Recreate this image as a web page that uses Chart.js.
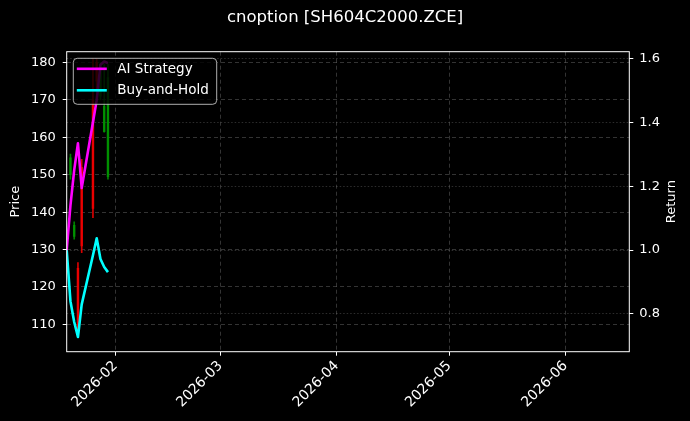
<!DOCTYPE html>
<html>
<head>
<meta charset="utf-8">
<script src="https://cdn.jsdelivr.net/npm/chart.js@4.4.1/dist/chart.umd.min.js"></script>
<style>
  html, body { margin: 0; padding: 0; background: #000; }
  #wrap { width: 690px; height: 421px; }
</style>
</head>
<body>
<div id="wrap"><canvas id="chart"></canvas></div>
<script>
// trading days shown in the picture
const dates = ['2026-01-19', '2026-01-20', '2026-01-21', '2026-01-22', '2026-01-23',
               '2026-01-26', '2026-01-27', '2026-01-28', '2026-01-29', '2026-01-30'];

// candles (left axis, price)
const openPrice  = [null, 150.0, 133.5, 125.0, 152.0, 170.0, 180.0, 171.0, 161.5, 149.5];
const highPrice  = [null, 155.5, 137.4, 126.5, 154.1, 181.0, 181.0, 180.0, 179.6, 179.6];
const lowPrice   = [null, 148.8, 132.8, 106.7, 129.2, 138.5, 173.0, 170.0, 161.4, 148.8];
const closePrice = [null, 154.5, 136.5, 108.0, 131.0, 141.0, 175.0, 178.0, 168.3, 176.0];

// equity curves (right axis, return)
const aiReturn   = [1.00, 1.14, 1.25, 1.334, 1.194, 1.40, 1.469, 1.58, 1.59, 1.585];
const holdReturn = [1.00, 0.84, 0.775, 0.728, 0.83, 0.984, 1.037, 0.972, 0.947, 0.931];

// axes
const xRange = ['2026-01-19', '2026-06-18'];
const monthTicks = ['2026-02', '2026-03', '2026-04', '2026-05', '2026-06'];
const priceTicks = [110, 120, 130, 140, 150, 160, 170, 180];
const priceRange = [102.7, 182.9];
const returnTicks = [0.8, 1.0, 1.2, 1.4, 1.6];
const returnRange = [0.682, 1.6206];

const FONT = "'DejaVu Sans', sans-serif";
Chart.defaults.font.family = FONT;
Chart.defaults.font.size = 13;
Chart.defaults.color = '#ffffff';

function dayNum(s) {
    const [y, m, d] = s.split('-').map(Number);
    return (Date.UTC(y, m - 1, d || 1) - Date.UTC(2026, 0, 1)) / 86400000;
}

const xs = dates.map(dayNum);
const candleIdx = xs.map((x, i) => i).filter(i => lowPrice[i] !== null);
const candleColor = i => closePrice[i] >= openPrice[i] ? 'rgba(0,150,0,0.85)' : 'rgba(240,0,0,0.9)';

const gridColor = 'rgba(150,150,150,0.34)';

const framePlugin = {
    id: 'frame',
    beforeDraw(chart) {
        const ctx = chart.ctx;
        ctx.save();
        ctx.fillStyle = '#000';
        ctx.fillRect(0, 0, chart.width, chart.height);
        ctx.restore();
    },
    afterDatasetsDraw(chart) {
        // legend inside the plot, upper left
        const {ctx, chartArea: a} = chart;
        const bx = a.left + 6.6, by = a.top + 6.6, bw = 143.4, bh = 46, r = 4;
        ctx.save();
        ctx.beginPath();
        ctx.roundRect(bx, by, bw, bh, r);
        ctx.fillStyle = 'rgba(0,0,0,0.8)';
        ctx.fill();
        ctx.strokeStyle = 'rgba(204,204,204,0.85)';
        ctx.lineWidth = 1;
        ctx.stroke();
        const items = chart.data.datasets.filter(d => d.type === 'line');
        ctx.font = '13.5px ' + FONT;
        ctx.textBaseline = 'middle';
        ctx.textAlign = 'left';
        items.forEach((d, k) => {
            const y = by + 10.5 + k * 21.5;
            ctx.beginPath();
            ctx.moveTo(bx + 3.5, y);
            ctx.lineTo(bx + 33.5, y);
            ctx.strokeStyle = d.borderColor;
            ctx.lineWidth = 2.6;
            ctx.stroke();
            ctx.fillStyle = '#fff';
            ctx.fillText(d.label, bx + 44, y + 0.5);
        });
        ctx.restore();
    },
    afterDraw(chart) {
        const {ctx, chartArea: a} = chart;
        ctx.save();
        ctx.strokeStyle = '#fff';
        ctx.lineWidth = 1;
        ctx.strokeRect(a.left, a.top, a.right - a.left, a.bottom - a.top);
        ctx.fillStyle = '#fff';
        ctx.font = '13px ' + FONT;
        ctx.textAlign = 'center';
        ctx.textBaseline = 'middle';
        const cy = (a.top + a.bottom) / 2;
        [['Price', 16], ['Return', 672]].forEach(([t, x]) => {
            ctx.save();
            ctx.translate(x, cy);
            ctx.rotate(-Math.PI / 2);
            ctx.fillText(t, 0, 0);
            ctx.restore();
        });
        ctx.restore();
    }
};

new Chart(document.getElementById('chart'), {
    type: 'line',
    data: {
        datasets: [
            {
                type: 'line',
                label: 'AI Strategy',
                data: xs.map((x, i) => ({x, y: aiReturn[i]})),
                yAxisID: 'y1',
                borderColor: '#ff00ff',
                borderWidth: 2.6,
                borderJoinStyle: 'round',
                pointRadius: 0,
                tension: 0,
                order: 0
            },
            {
                type: 'line',
                label: 'Buy-and-Hold',
                data: xs.map((x, i) => ({x, y: holdReturn[i]})),
                yAxisID: 'y1',
                borderColor: '#00ffff',
                borderWidth: 2.6,
                borderJoinStyle: 'round',
                pointRadius: 0,
                tension: 0,
                order: 0
            },
            {
                type: 'bar',
                label: 'wick',
                data: candleIdx.map(i => ({x: xs[i], y: [lowPrice[i], highPrice[i]]})),
                yAxisID: 'y',
                backgroundColor: candleIdx.map(candleColor),
                barThickness: 1,
                grouped: false,
                order: 2
            },
            {
                type: 'bar',
                label: 'body',
                data: candleIdx.map(i => ({x: xs[i], y: [openPrice[i], closePrice[i]]})),
                yAxisID: 'y',
                backgroundColor: candleIdx.map(candleColor),
                barThickness: 1.8,
                grouped: false,
                order: 1
            }
        ]
    },
    options: {
        responsive: true,
        maintainAspectRatio: false,
        animation: false,
        layout: { padding: 0 },
        plugins: {
            legend: { display: false },
            tooltip: { enabled: false },
            title: {
                display: true,
                text: 'cnoption [SH604C2000.ZCE]',
                color: '#fff',
                font: { size: 16.5, weight: 'normal', family: FONT, lineHeight: 1.2 },
                padding: { top: 8.3, bottom: 23.6 }
            }
        },
        scales: {
            x: {
                type: 'linear',
                offset: false,
                min: dayNum(xRange[0]),
                max: dayNum(xRange[1]),
                afterBuildTicks: s => { s.ticks = monthTicks.map(m => ({value: dayNum(m)})); },
                afterFit: s => { s.height = 69.3; },
                ticks: {
                    autoSkip: false,
                    minRotation: 45,
                    maxRotation: 45,
                    padding: 2,
                    color: '#fff',
                    font: { size: 14 },
                    callback: v => monthTicks.find(m => dayNum(m) === v) || ''
                },
                grid: { color: gridColor, offset: false, tickColor: '#fff', tickLength: 4, tickBorderDash: [] },
                border: { display: false, dash: [4, 3] }
            },
            y: {
                type: 'linear',
                position: 'left',
                min: priceRange[0],
                max: priceRange[1],
                afterBuildTicks: s => { s.ticks = priceTicks.map(v => ({value: v})); },
                afterFit: s => { s.width = 66.7; },
                ticks: { padding: 7, color: '#fff', font: { size: 13 }, callback: v => String(v) },
                grid: { color: gridColor, tickColor: '#fff', tickLength: 4, tickBorderDash: [] },
                border: { display: false, dash: [4, 3] }
            },
            y1: {
                type: 'linear',
                position: 'right',
                min: returnRange[0],
                max: returnRange[1],
                afterBuildTicks: s => { s.ticks = returnTicks.map(v => ({value: v})); },
                afterFit: s => { s.width = 60.7; },
                ticks: { padding: 6, color: '#fff', font: { size: 13 }, callback: v => v.toFixed(1) },
                grid: { color: 'rgba(150,150,150,0.3)', tickColor: '#fff', tickLength: 4, tickBorderDash: [] },
                border: { display: false, dash: [1.5, 2] }
            }
        }
    },
    plugins: [framePlugin]
});
</script>
</body>
</html>
